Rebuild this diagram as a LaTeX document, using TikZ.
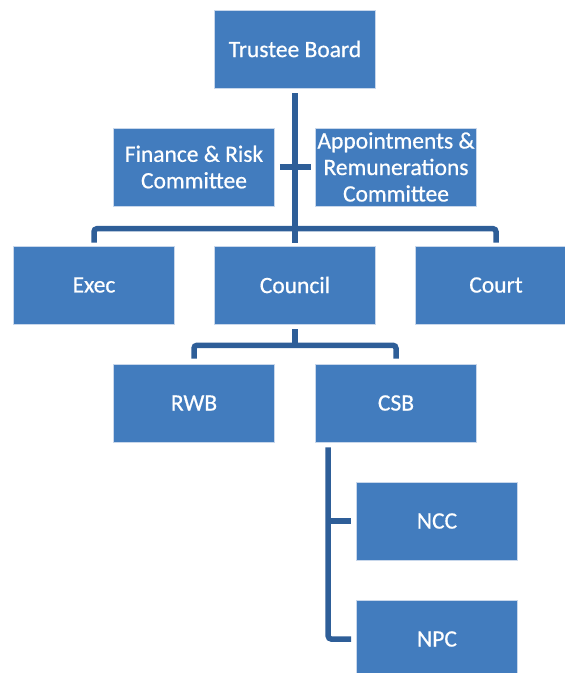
\documentclass[tikz,border=0pt]{standalone}
\usepackage{fontspec}
\setmainfont{Carlito}[FakeBold=0.6]
\usetikzlibrary{positioning}
\definecolor{boxblue}{RGB}{66,124,190}
\definecolor{lineblue}{RGB}{46,94,152}
\tikzstyle{unit} = [rectangle, minimum width=161pt, minimum height=78pt, text centered, align=center, inner sep=0pt, draw={rgb,255:red,200;green,215;blue,235}, line width=0.6pt, fill=boxblue, text=white, font=\fontsize{23.5pt}{26.5pt}\selectfont]
\tikzstyle{link} = [lineblue, line width=5.5pt, rounded corners=3pt]

\begin{document}
\begin{tikzpicture}[node distance=118pt]
\useasboundingbox (0pt,0pt) rectangle (565pt,-673pt);
\node(tb)[unit] at (295pt,-49pt) {Trustee Board};
\node(fin)[unit, below of=tb, xshift=-101pt]{Finance \& Risk\\Committee};
\node(appt)[unit, below of=tb, xshift=101pt]{Appointments \&\\Remunerations\\Committee};
\node(council)[unit, below of=fin, xshift=101pt]{Council};
\node(exec)[unit, below of=fin, xshift=-100pt]{Exec};
\node(court)[unit, below of=appt, xshift=100pt]{Court};
\node(rwb)[unit, below of=council, xshift=-101pt]{RWB};
\node(csb)[unit, below of=council, xshift=101pt]{CSB};
\node(ncc)[unit, below of=csb, xshift=41pt]{NCC};
\node(npc)[unit, below of=ncc]{NPC};
% trunk from the board
\draw[link, line width=6pt, rounded corners=0pt] ([yshift=-5pt]tb.south) -- ([yshift=-141pt]tb.south);
\draw[link, rounded corners=0pt] ([xshift=5pt]fin.east) -- ([xshift=-4pt]appt.west);
\draw[link] ([yshift=3pt]exec.north) |- ([yshift=17pt]council.north) -| ([yshift=3pt]court.north);
\draw[link, rounded corners=0pt] ([yshift=17pt]council.north) -- ([yshift=3pt]council.north);
% council to boards
\draw[link, rounded corners=0pt] ([yshift=-5pt]council.south) -- ([yshift=-21pt]council.south);
\draw[link] ([yshift=5pt]rwb.north) |- ([yshift=-21pt]council.south) -| ([yshift=5pt]csb.north);
% csb to committees
\draw[link] ([xshift=-28pt]ncc.west |- csb.south) ++(0,-5pt) |- ([xshift=-5pt]npc.west);
\draw[link, rounded corners=0pt] ([xshift=-28pt]ncc.west) -- ([xshift=-5pt]ncc.west);
\end{tikzpicture}
\end{document}
